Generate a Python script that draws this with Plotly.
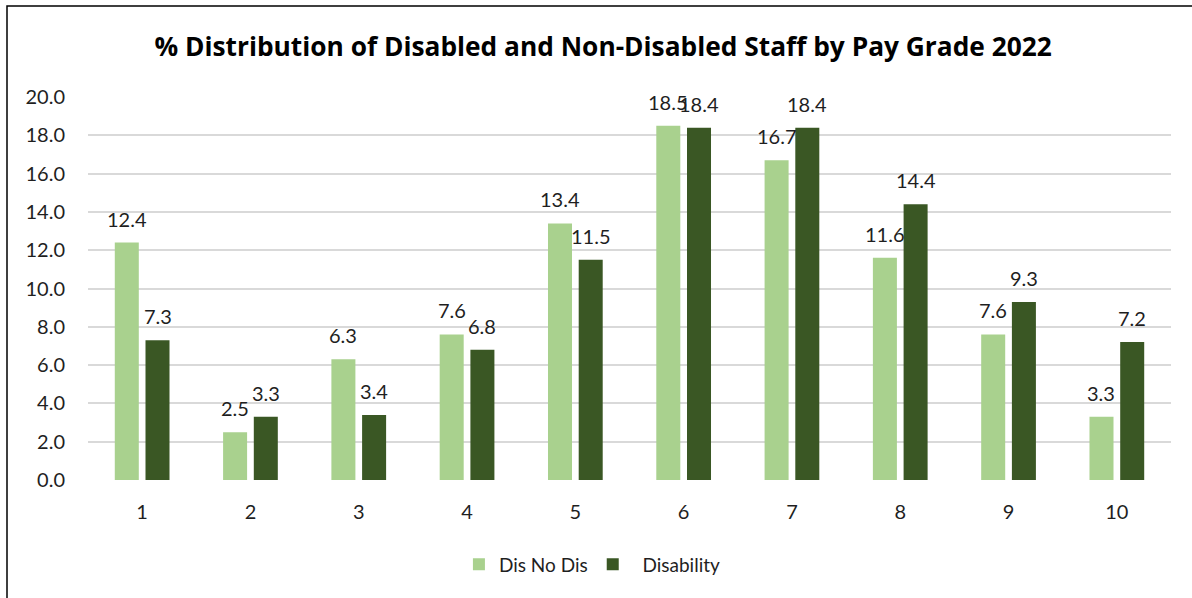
import plotly.graph_objects as go

# Pay grades and % of staff in each grade
grades = ["1", "2", "3", "4", "5", "6", "7", "8", "9", "10"]
no_disability = [12.4, 2.5, 6.3, 7.6, 13.4, 18.5, 16.7, 11.6, 7.6, 3.3]
disability = [7.3, 3.3, 3.4, 6.8, 11.5, 18.4, 18.4, 14.4, 9.3, 7.2]

series_names = ["Dis No Dis", "\u00a0\u00a0Disability"]
light_green = "#A9D18E"
dark_green = "#3A5724"
text_color = "#1f1f1f"
font_family = "Lato, 'Open Sans', sans-serif"

fig = go.Figure()
fig.add_trace(go.Bar(x=grades, y=no_disability, name=series_names[0],
                     marker=dict(color=light_green, line=dict(width=0))))
fig.add_trace(go.Bar(x=grades, y=disability, name=series_names[1],
                     marker=dict(color=dark_green, line=dict(width=0))))

# value labels above each bar, shifted to sit over its bar in the group
# (x given as the category index on the category axis)
annotations = []
for values, shift in ((no_disability, -15.4), (disability, 15.4)):
    for idx, v in enumerate(values):
        annotations.append(dict(
            x=idx, y=v, xref="x", yref="y", text=f"{v:.1f}",
            showarrow=False, xshift=shift, yshift=24,
            xanchor="center", yanchor="middle",
            font=dict(family=font_family, size=20, color=text_color),
        ))

fig.update_layout(
    width=1192, height=598,
    margin=dict(l=88, r=21, t=97, b=118, autoexpand=False),
    paper_bgcolor="white", plot_bgcolor="white",
    barmode="group", bargap=0.433, bargroupgap=0.218,
    font=dict(family=font_family, size=20, color=text_color),
    title=dict(
        text="<b>% Distribution of Disabled and Non-Disabled Staff by Pay Grade 2022</b>",
        x=0.506, xref="container", xanchor="center",
        y=1 - 47 / 598, yref="container", yanchor="middle",
        font=dict(family="'Open Sans', Lato, sans-serif", size=26.3, color="#000000"),
    ),
    legend=dict(
        orientation="h", xref="container", x=0.497, xanchor="center",
        y=-0.2205, yanchor="middle",
        font=dict(family=font_family, size=19, color=text_color),
        itemwidth=30,
    ),
    annotations=annotations,
    shapes=[dict(type="rect", xref="paper", yref="paper",
                 x0=(7 - 88) / 1083, x1=1.1, y0=-0.5, y1=(480.5 - 6) / 383.5,
                 line=dict(color="#000000", width=1.5), fillcolor="rgba(0,0,0,0)")],
    xaxis=dict(
        type="category", range=[-0.5, len(grades) - 0.5],
        showgrid=False, showline=False, zeroline=False,
        ticks="", ticklabelstandoff=18, automargin=False,
        tickfont=dict(family=font_family, size=20, color=text_color),
    ),
    yaxis=dict(
        range=[0, 20], dtick=2, tickformat=".1f",
        showgrid=True, gridcolor="#D9D9D9", gridwidth=1.5,
        zeroline=False, showline=False, ticks="", ticklabelstandoff=22,
        automargin=False,
        tickfont=dict(family=font_family, size=20, color=text_color),
    ),
)

fig.write_html("out.html")
